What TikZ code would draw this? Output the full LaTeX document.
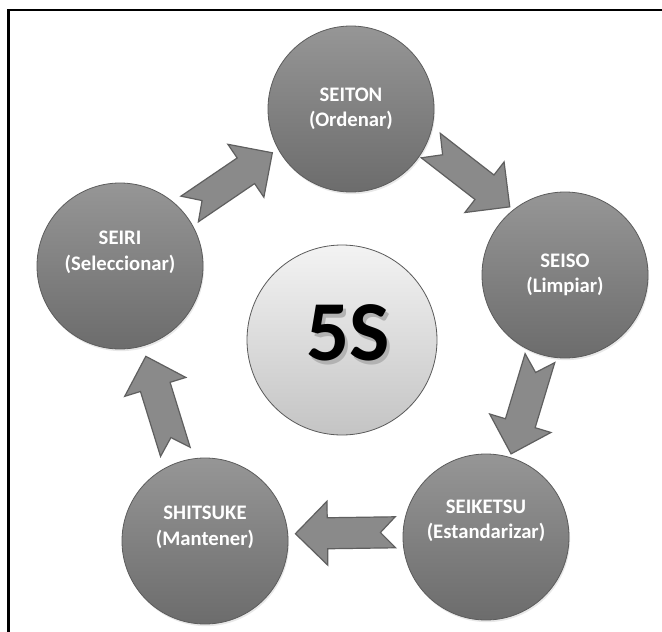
\documentclass[tikz,border=0pt]{standalone}
\usepackage{fontspec}
\setmainfont{Carlito}
\usetikzlibrary{calc,shadows}

\definecolor{circtop}{RGB}{150,150,150}
\definecolor{circbot}{RGB}{108,108,108}
\definecolor{circedge}{RGB}{92,92,92}
\definecolor{arrfill}{RGB}{138,138,138}
\definecolor{arredge}{RGB}{95,95,95}
\definecolor{ctrtop}{RGB}{243,243,243}
\definecolor{ctrbot}{RGB}{196,196,196}
\definecolor{ctredge}{RGB}{90,90,90}

\tikzset{
  stage/.style={circle, inner sep=0pt, minimum size=124.5pt,
    top color=circtop, bottom color=circbot, draw=circedge, line width=0.6pt,
    drop shadow={shadow xshift=0.8pt, shadow yshift=-1.6pt, opacity=0.18},
    text=white, align=center, font=\bfseries\fontsize{15.5}{19}\selectfont},
  core/.style={circle, inner sep=0pt, minimum size=142.5pt,
    top color=ctrtop, bottom color=ctrbot, draw=ctredge, line width=0.6pt},
  bigtext/.style={font=\bfseries\fontsize{64}{68}\selectfont},
  barrow/.style={fill=arrfill, draw=arredge, line width=0.9pt, line join=miter},
  pics/blockarrow/.style={code={
    \draw[barrow, shift={(0,#1)}] (-50,15.5) -- (-35,0) -- (-50,-15.5) -- (18,-15.5)
      -- (18,-32) -- (50,0) -- (18,32) -- (18,15.5) -- cycle;}},
  pics/blockarrow/.default=0
}

\begin{document}
\begin{tikzpicture}[x=0.75pt,y=-0.75pt]
\useasboundingbox (0,0) rectangle (662,632);
\fill[white] (0,0) rectangle (662,632);
% frame
\draw[line width=2pt] (8.7,632) -- (8.7,10) -- (662,10);

% nodes
\node[stage] (seiton)   at (351,109) {SEITON\\(Ordenar)};
\node[stage] (seiso)    at (565,275) {SEISO\\(Limpiar)};
\node[stage] (seiketsu) at (486,537) {SEIKETSU\\(Estandarizar)\\[8pt]};
\node[stage] (shitsuke) at (205,541) {SHITSUKE\\(Mantener)\\[4pt]};
\node[stage] (seiri)    at (120,266) {SEIRI\\(Seleccionar)\\[4pt]};

\node[core] (core) at (342,340) {};
\node[bigtext, text=black!30] (coreshadow) at (351,337) {5S};
\node[bigtext, text=black] (coretext) at (348,333) {5S};

% arrows
\path (seiri) -- (seiton) pic[pos=0.5, sloped, allow upside down] {blockarrow=-8};
\path (seiton) -- (seiso) pic[pos=0.5, sloped, allow upside down] {blockarrow=-20};
\path (seiso) -- (seiketsu) pic[pos=0.5, sloped, allow upside down] {blockarrow=0};
\path (seiketsu) -- (shitsuke) pic[pos=0.5, sloped, allow upside down] {blockarrow=6};
\path (shitsuke) -- (seiri) pic[pos=0.5, sloped, allow upside down] {blockarrow=-2};
\end{tikzpicture}
\end{document}
